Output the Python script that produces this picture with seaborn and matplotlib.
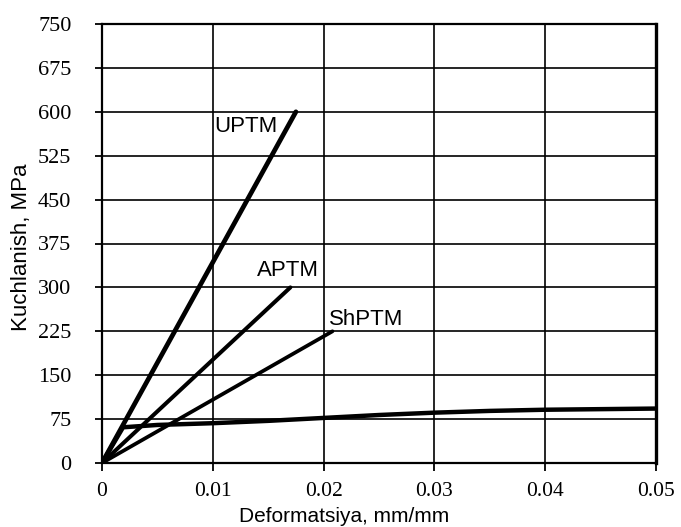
import matplotlib
matplotlib.use("Agg")
import matplotlib.pyplot as plt
import seaborn as sns
import pandas as pd
import numpy as np

# Data
uptm_x = [0.0, 0.0175]
uptm_y = [0, 600]
aptm_x = [0.0, 0.0170]
aptm_y = [0, 300]
shptm_x = [0.0, 0.0208]
shptm_y = [0, 225]
base_x = [0.0, 0.0019, 0.005, 0.01, 0.015, 0.02, 0.025, 0.03, 0.035, 0.04, 0.045, 0.05]
base_y = [0, 61, 65, 68, 72, 77, 82, 86, 89, 91, 92, 93]

x_ticks = [0, 0.01, 0.02, 0.03, 0.04, 0.05]
x_tick_labels = ["0", "0.01", "0.02", "0.03", "0.04", "0.05"]
y_ticks = [0, 75, 150, 225, 300, 375, 450, 525, 600, 675, 750]

series_labels = ["UPTM", "APTM", "ShPTM"]

sns.set_theme(style="white")
plt.rcParams['font.family'] = ['Liberation Sans', 'DejaVu Sans']
plt.rcParams['text.color'] = 'black'
plt.rcParams['axes.labelcolor'] = 'black'
plt.rcParams['xtick.color'] = 'black'
plt.rcParams['ytick.color'] = 'black'

fig = plt.figure(figsize=(6.81, 5.27), dpi=100)
ax = fig.add_axes([102/681, 1-463/527, (656-102)/681, (463-24)/527])

df_u = pd.DataFrame({"x": uptm_x, "y": uptm_y})
df_a = pd.DataFrame({"x": aptm_x, "y": aptm_y})
df_s = pd.DataFrame({"x": shptm_x, "y": shptm_y})
df_b = pd.DataFrame({"x": base_x, "y": base_y})

sns.lineplot(data=df_u, x="x", y="y", ax=ax, color="black", linewidth=3.4, sort=False, zorder=5)
sns.lineplot(data=df_a, x="x", y="y", ax=ax, color="black", linewidth=2.9, sort=False, zorder=5)
sns.lineplot(data=df_s, x="x", y="y", ax=ax, color="black", linewidth=2.7, sort=False, zorder=5)
sns.lineplot(data=df_b, x="x", y="y", ax=ax, color="black", linewidth=3.2, sort=False, zorder=5)

ax.set_xlim(0, 0.05)
ax.set_ylim(0, 750)
ax.set_xticks(x_ticks)
ax.set_xticklabels(x_tick_labels)
ax.set_yticks(y_ticks)
ax.set_yticklabels([str(v) for v in y_ticks])

ax.grid(True, color="black", linewidth=1.2)
ax.set_axisbelow(True)

for side in ["left", "top", "bottom"]:
    ax.spines[side].set_color("black")
    ax.spines[side].set_linewidth(1.6)
ax.spines["right"].set_color("black")
ax.spines["right"].set_linewidth(2.4)

ax.tick_params(axis="x", direction="out", length=6, width=1.3, color="black", pad=8,
               labelsize=15.5, bottom=True, labelcolor="black")
ax.tick_params(axis="y", direction="out", length=5, width=1.3, color="black", pad=17,
               labelsize=16, left=True, labelcolor="black")
for lbl in ax.get_xticklabels() + ax.get_yticklabels():
    lbl.set_fontfamily(['Liberation Serif', 'DejaVu Serif'])

ax.set_xlabel("")
ax.set_ylabel("")

fig.text(344/681, 0.5/527, "Deformatsiya, mm/mm", ha="center", va="bottom", fontsize=15, color="black")
fig.text(22/681, 1-247/527, "Kuchlanish, MPa", ha="center", va="center", rotation=90, fontsize=16, color="black")

ax.text(0.0101, 600 - (128-113)/43.9*75, series_labels[0], ha="left", va="center", fontsize=16, color="black")
ax.text(0.01395, 300 + (289-272)/43.9*75, series_labels[1], ha="left", va="center", fontsize=16, color="black")
ax.text(0.0205, 225 + (332-320)/43.9*75, series_labels[2], ha="left", va="center", fontsize=16, color="black")

fig.savefig("out.png", dpi=100)
